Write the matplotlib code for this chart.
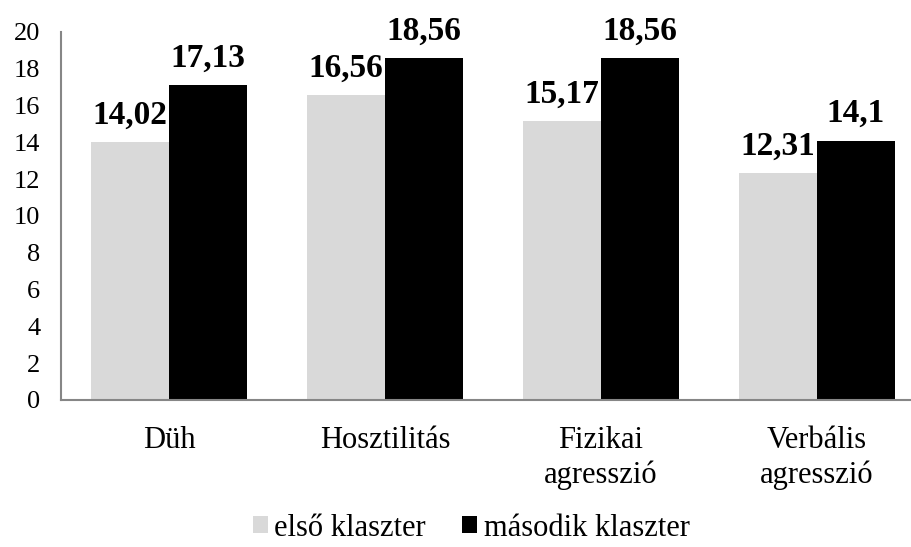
import matplotlib.pyplot as plt
import numpy as np

plt.rcParams['font.family'] = ['Liberation Serif', 'DejaVu Serif']

# Data
categories = ['Düh', 'Hosztilitás', 'Fizikai\nagresszió', 'Verbális\nagresszió']
first_cluster = [14.02, 16.56, 15.17, 12.31]
second_cluster = [17.13, 18.56, 18.56, 14.1]
series_names = ['első klaszter', 'második klaszter']

fig = plt.figure(figsize=(9.12, 5.47), dpi=100)
ax = fig.add_axes([61 / 912, 1 - 400 / 547, 864 / 912, 368 / 547])

x = np.arange(len(categories))
w = 0.36
b1 = ax.bar(x - w / 2, first_cluster, w, color='#d9d9d9', label=series_names[0])
b2 = ax.bar(x + w / 2, second_cluster, w, color='#000000', label=series_names[1])

# Value labels with comma decimal separator
for bars, vals in [(b1, first_cluster), (b2, second_cluster)]:
    for bar, v in zip(bars, vals):
        txt = f'{v:g}'.replace('.', ',')
        ax.text(bar.get_x() + bar.get_width() / 2, v + 1.0, txt,
                ha='center', va='baseline', fontsize=24, fontweight='bold')

ax.set_xlim(-0.5, 3.5)
ax.set_ylim(0, 20)
ax.set_yticks(range(0, 21, 2))
ax.set_xticks(x)
ax.set_xticklabels(categories, fontsize=22, linespacing=1.22)
ax.tick_params(axis='y', length=0, pad=15, labelsize=19)
ax.tick_params(axis='x', length=0, pad=19)

for s in ['top', 'right']:
    ax.spines[s].set_visible(False)
for s in ['left', 'bottom']:
    ax.spines[s].set_color('#868686')
    ax.spines[s].set_linewidth(1.5)

fig.legend(handles=[b1, b2], labels=series_names, loc='center',
           bbox_to_anchor=(471 / 912, 1 - 528 / 547), ncol=2, frameon=False,
           fontsize=22, handlelength=0.5, handleheight=0.5,
           handletextpad=0.2, columnspacing=1.2, borderpad=0)

fig.savefig('out.png', dpi=100)
